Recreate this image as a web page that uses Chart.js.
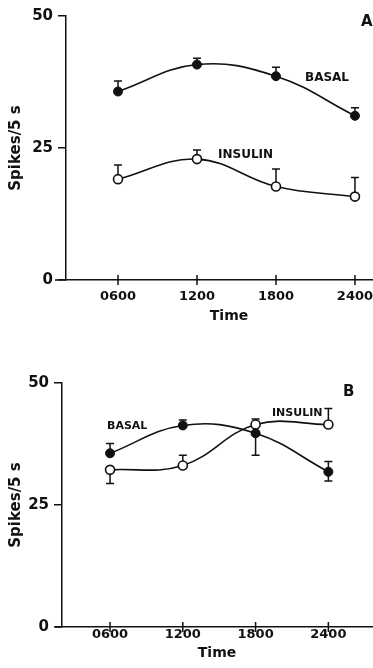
<!DOCTYPE html>
<html>
<head>
<meta charset="utf-8">
<script src="https://cdn.jsdelivr.net/npm/chart.js@4.4.0/dist/chart.umd.min.js"></script>
<style>
  html, body { margin: 0; padding: 0; background: #fff; }
  body { width: 373px; height: 668px; position: relative; overflow: hidden; }
  .panel { position: absolute; left: 0; }
</style>
</head>
<body>
<div class="panel" style="top:0"><canvas id="chartA" width="373" height="330"></canvas></div>
<div class="panel" style="top:360px"><canvas id="chartB" width="373" height="308"></canvas></div>
<script>
// time of day (hours) and their tick labels
const hours = [6, 12, 18, 24];
const timeLabels = ['0600', '1200', '1800', '2400'];

// panel A
const basalA = [35.7, 40.8, 38.6, 31.1];
const basalAUp = [2.0, 1.2, 1.7, 1.5];
const basalADown = [0, 0, 0, 0];
const insulinA = [19.1, 22.9, 17.7, 15.8];
const insulinAUp = [2.7, 1.7, 3.3, 3.6];
const insulinADown = [0, 0, 0, 0];

// panel B
const basalB = [35.6, 41.3, 39.7, 31.8];
const basalBUp = [2.0, 1.1, 0, 2.1];
const basalBDown = [0, 0, 4.5, 1.9];
const insulinB = [32.2, 33.1, 41.5, 41.5];
const insulinBUp = [0, 2.1, 1.1, 3.3];
const insulinBDown = [2.8, 0, 0, 0];

const yTicks = [0, 25, 50];

const FONT = "'DejaVu Sans', sans-serif";
const INK = '#111';

Chart.defaults.font.family = FONT;
Chart.defaults.color = INK;

const pts = vals => vals.map((v, i) => ({ x: hours[i], y: v }));

// one-sided / two-sided error bars with a cap
const errorBars = {
  id: 'errorBars',
  beforeDatasetsDraw(chart) {
    const { ctx, scales: { x, y } } = chart;
    ctx.save();
    ctx.strokeStyle = INK;
    ctx.lineWidth = 1.5;
    chart.data.datasets.forEach(ds => {
      ds.data.forEach((p, j) => {
        const px = x.getPixelForValue(p.x);
        const py = y.getPixelForValue(p.y);
        [[ds.errUp[j], 1], [ds.errDown[j], -1]].forEach(([e, dir]) => {
          if (!e) return;
          const ey = y.getPixelForValue(p.y + dir * e);
          ctx.beginPath();
          ctx.moveTo(px, py);
          ctx.lineTo(px, ey);
          ctx.moveTo(px - 4, ey);
          ctx.lineTo(px + 4, ey);
          ctx.stroke();
        });
      });
    });
    ctx.restore();
  }
};

// x tick marks crossing the axis, axis stub left of the y axis, and free text
const decor = {
  id: 'decor',
  afterDraw(chart, args, opts) {
    const { ctx, chartArea, scales: { x } } = chart;
    ctx.save();
    ctx.strokeStyle = INK;
    ctx.lineWidth = 1.5;
    ctx.beginPath();
    ctx.moveTo(opts.stubLeft, chartArea.bottom);
    ctx.lineTo(chartArea.left, chartArea.bottom);
    hours.forEach(h => {
      const px = x.getPixelForValue(h);
      ctx.moveTo(px, chartArea.bottom - 5);
      ctx.lineTo(px, chartArea.bottom + 5);
    });
    ctx.stroke();
    ctx.fillStyle = INK;
    ctx.textBaseline = 'middle';
    opts.texts.forEach(t => {
      ctx.textAlign = t.align || 'left';
      ctx.font = 'bold ' + t.size + 'px ' + FONT;
      ctx.fillText(t.text, t.x, t.y);
    });
    ctx.restore();
  }
};

function makeChart(id, cfg) {
  return new Chart(document.getElementById(id), {
    type: 'line',
    data: {
      datasets: [
        {
          label: 'BASAL',
          data: pts(cfg.basal),
          errUp: cfg.basalUp,
          errDown: cfg.basalDown,
          borderColor: INK,
          borderWidth: 1.6,
          tension: 0.4,
          pointRadius: 4.5,
          pointBackgroundColor: INK,
          pointBorderColor: INK,
          pointBorderWidth: 1
        },
        {
          label: 'INSULIN',
          data: pts(cfg.insulin),
          errUp: cfg.insulinUp,
          errDown: cfg.insulinDown,
          borderColor: INK,
          borderWidth: 1.6,
          tension: 0.4,
          pointRadius: 4.5,
          pointBackgroundColor: '#fff',
          pointBorderColor: INK,
          pointBorderWidth: 1.6
        }
      ]
    },
    options: {
      responsive: false,
      animation: false,
      layout: { autoPadding: false, padding: { top: cfg.padTop, right: 0, left: 0, bottom: 0 } },
      plugins: {
        legend: { display: false },
        tooltip: { enabled: false },
        decor: { stubLeft: 55, texts: cfg.texts }
      },
      scales: {
        x: {
          type: 'linear',
          min: cfg.xMin,
          max: cfg.xMax,
          afterFit: s => {
            s.height = cfg.xHeight;
            s.paddingLeft = 0;
            s.paddingRight = 0;
          },
          afterBuildTicks: s => { s.ticks = hours.map(v => ({ value: v })); },
          grid: { display: false, drawTicks: false },
          border: { display: true, color: INK, width: 1.5 },
          ticks: {
            padding: cfg.xTickPad,
            maxRotation: 0,
            autoSkip: false,
            font: { size: 13, weight: 'bold' },
            callback: v => timeLabels[hours.indexOf(v)]
          },
          title: { display: false }
        },
        y: {
          min: 0,
          max: 50,
          afterFit: s => { s.width = cfg.yWidth; },
          afterBuildTicks: s => { s.ticks = yTicks.map(v => ({ value: v })); },
          grid: { drawOnChartArea: false, drawTicks: true, tickLength: 8, color: INK, lineWidth: 1.5 },
          border: { display: true, color: INK, width: 1.5 },
          ticks: { padding: 5, font: { size: 15, weight: 'bold' } },
          title: {
            display: true,
            text: 'Spikes/5 s',
            font: { size: 15, weight: 'bold' },
            padding: { top: 7, bottom: 0 }
          }
        }
      }
    },
    plugins: [errorBars, decor]
  });
}

makeChart('chartA', {
  basal: basalA, basalUp: basalAUp, basalDown: basalADown,
  insulin: insulinA, insulinUp: insulinAUp, insulinDown: insulinADown,
  xMin: 2.05, xMax: 25.37, yWidth: 66, xHeight: 50, padTop: 16, xTickPad: 9,
  texts: [
    { text: 'A', x: 361, y: 22, size: 15 },
    { text: 'BASAL', x: 305, y: 78, size: 12 },
    { text: 'INSULIN', x: 218, y: 155, size: 12 },
    { text: 'Time', x: 229, y: 316, size: 14, align: 'center' }
  ]
});

makeChart('chartB', {
  basal: basalB, basalUp: basalBUp, basalDown: basalBDown,
  insulin: insulinB, insulinUp: insulinBUp, insulinDown: insulinBDown,
  xMin: 2.04, xMax: 27.68, yWidth: 62, xHeight: 41, padTop: 23, xTickPad: 0,
  texts: [
    { text: 'B', x: 343, y: 32, size: 15 },
    { text: 'BASAL', x: 107, y: 66, size: 11 },
    { text: 'INSULIN', x: 272, y: 53, size: 11 },
    { text: 'Time', x: 217, y: 293, size: 14, align: 'center' }
  ]
});
</script>
</body>
</html>
